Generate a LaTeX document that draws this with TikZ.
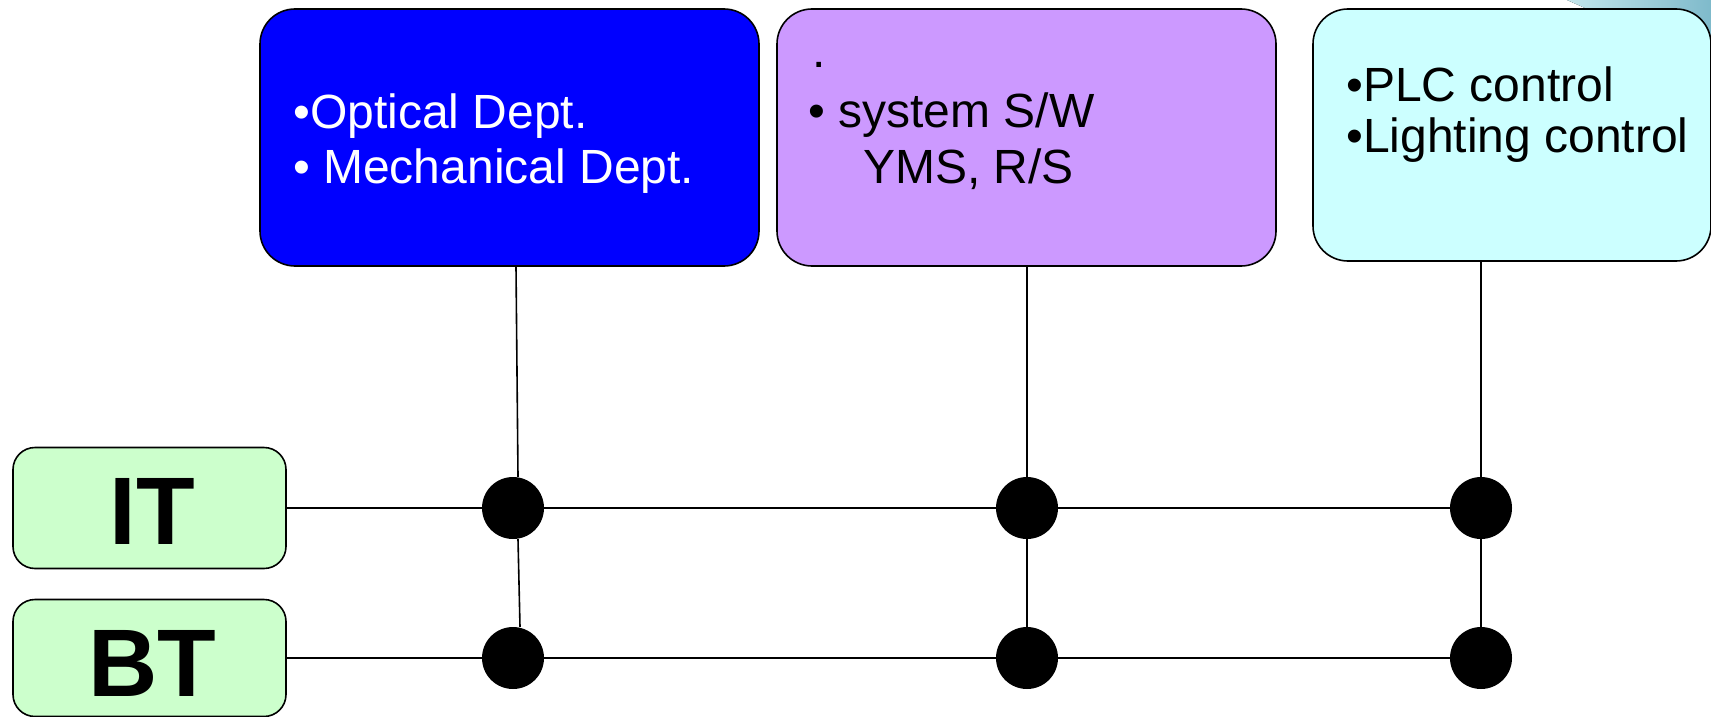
\documentclass[tikz,border=0pt]{standalone}
\usepackage{fontspec}
\setmainfont{Liberation Sans}
\definecolor{boxblue}{HTML}{0000FF}
\definecolor{boxpurple}{HTML}{CC99FF}
\definecolor{boxcyan}{HTML}{CCFFFF}
\definecolor{boxgreen}{HTML}{CCFFCC}
\definecolor{decoA}{HTML}{C4E6EC}
\definecolor{decoB}{HTML}{7FBACB}
\tikzset{
  topbox/.style={draw=black, line width=1.6pt, rounded corners=35pt, inner sep=0pt},
  sidebox/.style={draw=black, line width=1.6pt, rounded corners=22pt, inner sep=0pt, fill=boxgreen},
  txt/.style={anchor=base west, inner sep=0pt, font=\fontsize{48}{56}\selectfont},
  bigtxt/.style={anchor=base, inner sep=0pt, font=\fontsize{96}{110}\selectfont\bfseries},
  dot/.style={circle, fill=black, minimum size=62pt, inner sep=0pt},
  wire/.style={line width=2pt},
  vwire/.style={line width=1.6pt}
}
\begin{document}
\begin{tikzpicture}[x=1pt, y=-1pt]
\useasboundingbox (0,0) rectangle (1711,717);
% top-right decoration
\fill[left color=decoA, right color=decoB] (1567,0) -- (1711,0) -- (1711,40) -- (1630,28) -- cycle;
% top boxes
\node[topbox, fill=boxblue, minimum width=499pt, minimum height=257pt] (blue) at (509.5,137.5) {};
\node[topbox, fill=boxpurple, minimum width=499pt, minimum height=257pt] (purple) at (1026.5,137.5) {};
\node[topbox, fill=boxcyan, minimum width=398pt, minimum height=252pt] (cyan) at (1512,135) {};
% texts
\node[txt, text=white] (b1) at (293,128) {•Optical Dept.};
\node[txt, text=white] (b2) at (293,183) {• Mechanical Dept.};
\node[txt] (p0) at (812,68) {.};
\node[txt] (p1) at (808,127) {• system S/W};
\node[txt] (p2) at (863,183) {YMS, R/S};
\node[txt] (c1) at (1346,102) {•PLC control};
\node[txt] (c2) at (1346,152) {•Lighting control};
% side boxes
\node[sidebox, minimum width=273pt, minimum height=121pt] (it) at (149.5,508) {};
\node[sidebox, minimum width=273pt, minimum height=117pt] (bt) at (149.5,658) {};
\node[bigtxt] (itt) at (152,544) {IT};
\node[bigtxt] (btt) at (152,696) {BT};
% dots
\node[dot] (d11) at (513,508) {};
\node[dot] (d12) at (1027,508) {};
\node[dot] (d13) at (1481,508) {};
\node[dot] (d21) at (513,658) {};
\node[dot] (d22) at (1027,658) {};
\node[dot] (d23) at (1481,658) {};
% horizontal buses
\draw[wire] (it.east) -- (d11) -- (d12) -- (d13);
\draw[wire] (bt.east) -- (d21) -- (d22) -- (d23);
% verticals
\draw[vwire] ([xshift=6.5pt]blue.south) -- ([xshift=5pt]d11.north);
\draw[vwire] ([xshift=5pt]d11.south) -- ([xshift=7pt]d21.north);
\draw[vwire] (purple.south -| d12) -- (d12.north);
\draw[vwire] (d12.south) -- (d22.north);
\draw[vwire] (cyan.south -| d13) -- (d13.north);
\draw[vwire] (d13.south) -- (d23.north);
\end{tikzpicture}
\end{document}
